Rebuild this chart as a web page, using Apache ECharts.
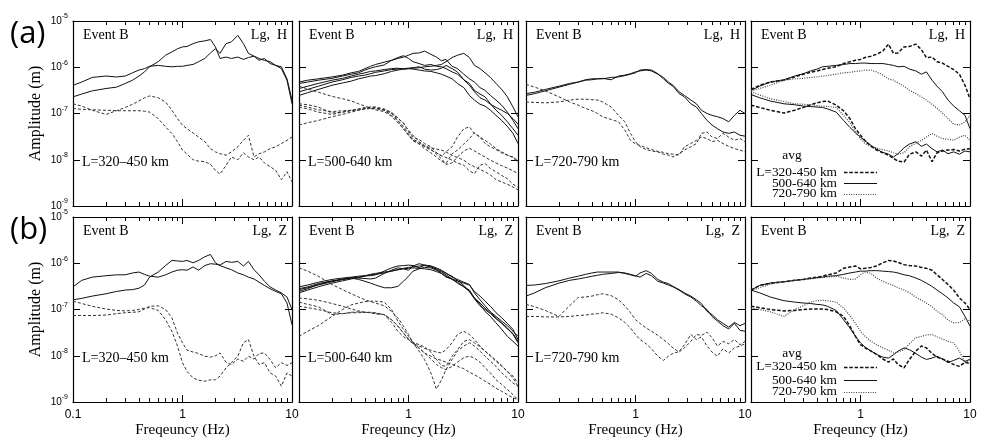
<!DOCTYPE html>
<html><head><meta charset="utf-8">
<script src="https://cdn.jsdelivr.net/npm/echarts@6/dist/echarts.min.js"></script>
<style>html,body{margin:0;padding:0;background:#fff}#c{width:993px;height:448px}</style>
</head><body><div id="c"></div>
<script>
// ---------- axis / text values ----------
const FREQ = [0.1,0.12,0.15,0.2,0.25,0.3,0.35,0.4,0.45,0.5,0.6,0.7,0.8,0.9,1,1.1,1.25,1.4,1.6,1.8,2,2.2,2.5,2.8,3.2,3.6,4,4.5,5,5.6,6.3,7.1,8,9,10];
const X_TICK_LABELS = {'-1':'0.1','0':'1','1':'10'};
const Y_EXPONENTS = [-9,-8,-7,-6,-5];
const X_NAME = 'Freqeuncy (Hz)';
const Y_NAME = 'Amplitude (m)';
const ROW_TAGS = ['(a)','(b)'];
const COMPONENTS = ['Lg,  H','Lg,  Z'];
const EVENT = 'Event B';
const RANGES = ['L=320\u2013450 km','L=500-640 km','L=720-790 km'];
const AVG_TITLE = 'avg';
const AVG_NAMES = ['L=320-450 km','500-640 km','720-790 km'];

// ---------- series values: log10 of amplitude (m) at FREQ ----------
// (a) H component, L=320-450 km
const a1s1 = [-6.39,-6.32,-6.22,-6.19,-6.21,-6.19,-6.12,-6.06,-6.03,-5.98,-5.96,-5.98,-5.99,-5.98,-5.98,-5.96,-5.94,-5.88,-5.81,-5.69,-5.60,-5.70,-5.49,-5.45,-5.31,-5.49,-5.70,-5.76,-5.81,-5.85,-5.88,-5.96,-5.99,-6.25,-6.71];
const a1s2 = [-6.64,-6.58,-6.51,-6.46,-6.43,-6.35,-6.28,-6.19,-6.10,-5.99,-5.88,-5.74,-5.67,-5.60,-5.56,-5.55,-5.49,-5.45,-5.43,-5.40,-5.56,-5.81,-5.78,-5.81,-5.78,-5.83,-5.79,-5.76,-5.85,-5.81,-5.92,-5.96,-6.03,-6.28,-6.79];
const a1n1 = [-6.79,-6.84,-6.93,-7.02,-6.94,-6.87,-6.80,-6.73,-6.66,-6.62,-6.66,-6.75,-6.93,-7.11,-7.25,-7.33,-7.42,-7.51,-7.61,-7.76,-7.83,-7.87,-7.90,-7.83,-7.72,-7.58,-7.47,-7.94,-7.87,-7.83,-7.76,-7.72,-7.65,-7.58,-7.51];
const a1n2 = [-6.89,-6.91,-6.92,-6.93,-6.94,-6.94,-6.94,-6.94,-6.95,-6.97,-7.11,-7.29,-7.43,-7.61,-7.79,-7.88,-8.00,-8.03,-8.04,-8.10,-8.23,-8.31,-8.12,-7.94,-8.00,-7.85,-7.94,-8.00,-7.94,-8.07,-8.15,-8.23,-8.43,-8.26,-8.48];
// (a) H component, L=500-640 km
const a2s1 = [-6.32,-6.28,-6.25,-6.21,-6.17,-6.12,-6.09,-6.03,-5.98,-5.94,-5.89,-5.85,-5.81,-5.78,-5.74,-5.70,-5.69,-5.65,-5.72,-5.78,-5.86,-5.83,-5.98,-6.03,-6.15,-6.25,-6.32,-6.44,-6.50,-6.61,-6.71,-6.82,-6.97,-7.15,-7.33];
const a2s2 = [-6.35,-6.32,-6.28,-6.24,-6.19,-6.15,-6.12,-6.06,-6.02,-5.99,-5.95,-5.85,-5.79,-5.75,-5.81,-5.88,-5.92,-5.96,-5.94,-5.98,-5.99,-6.03,-6.10,-6.15,-6.27,-6.35,-6.50,-6.58,-6.64,-6.79,-6.93,-7.04,-7.18,-7.33,-7.47];
const a2s3 = [-6.46,-6.41,-6.35,-6.28,-6.24,-6.19,-6.15,-6.12,-6.09,-6.08,-6.05,-6.03,-6.02,-6.04,-6.03,-6.02,-6.01,-5.99,-5.98,-5.96,-5.94,-5.88,-5.79,-5.74,-5.70,-5.79,-5.96,-6.03,-6.12,-6.22,-6.35,-6.48,-6.64,-6.86,-7.07];
const a2s4 = [-6.53,-6.48,-6.41,-6.32,-6.27,-6.22,-6.19,-6.17,-6.14,-6.11,-6.08,-6.05,-6.04,-6.03,-6.02,-6.01,-5.99,-6.04,-6.06,-6.05,-6.02,-5.96,-6.03,-6.10,-6.27,-6.39,-6.53,-6.66,-6.71,-6.80,-6.87,-6.93,-7.00,-7.11,-7.23];
const a2s5 = [-6.61,-6.55,-6.48,-6.39,-6.34,-6.30,-6.25,-6.22,-6.19,-6.18,-6.14,-6.09,-6.06,-6.04,-6.03,-6.04,-6.06,-6.08,-6.09,-6.12,-6.15,-6.19,-6.25,-6.35,-6.44,-6.61,-6.71,-6.80,-6.84,-6.93,-7.04,-7.15,-7.28,-7.43,-7.65];
const a2n1 = [-6.41,-6.47,-6.54,-6.63,-6.68,-6.73,-6.79,-6.84,-6.89,-6.92,-6.96,-7.06,-7.20,-7.33,-7.47,-7.58,-7.65,-7.71,-7.74,-7.77,-7.79,-7.83,-7.91,-7.95,-8.01,-8.10,-8.15,-8.21,-8.26,-8.33,-8.43,-8.48,-8.53,-8.59,-8.65];
const a2n2 = [-6.79,-6.81,-6.86,-6.99,-6.97,-6.94,-6.92,-6.90,-6.89,-6.89,-6.92,-6.97,-7.11,-7.20,-7.38,-7.51,-7.56,-7.65,-7.72,-7.85,-7.92,-7.83,-7.72,-7.51,-7.33,-7.29,-7.43,-7.51,-7.65,-7.72,-7.78,-7.85,-7.90,-7.95,-8.01];
const a2n3 = [-6.86,-6.90,-6.97,-7.02,-6.97,-6.93,-6.90,-6.87,-6.86,-6.87,-6.93,-7.04,-7.16,-7.33,-7.47,-7.59,-7.66,-7.76,-7.85,-7.94,-8.03,-8.08,-7.87,-7.79,-7.66,-7.54,-7.42,-7.51,-7.58,-7.66,-7.76,-7.83,-7.90,-7.94,-8.08];
const a2n4 = [-6.82,-6.86,-6.92,-6.96,-6.94,-6.93,-6.92,-6.89,-6.86,-6.86,-6.90,-6.99,-7.15,-7.28,-7.42,-7.56,-7.62,-7.69,-7.77,-7.88,-7.98,-8.10,-8.07,-7.94,-7.81,-7.75,-7.81,-7.88,-7.94,-8.01,-8.07,-8.13,-8.18,-8.24,-8.30];
const a2n5 = [-7.25,-7.20,-7.15,-7.07,-7.02,-6.97,-6.93,-6.90,-6.89,-6.89,-6.93,-7.00,-7.09,-7.22,-7.36,-7.47,-7.61,-7.72,-7.79,-7.85,-7.91,-7.95,-8.01,-8.07,-8.12,-8.24,-8.30,-8.12,-8.08,-8.19,-8.26,-8.34,-8.41,-8.53,-8.59];
// (a) H component, L=720-790 km
const a3s1 = [-6.57,-6.54,-6.48,-6.41,-6.35,-6.32,-6.27,-6.25,-6.25,-6.24,-6.27,-6.19,-6.17,-6.14,-6.10,-6.08,-6.06,-6.08,-6.15,-6.22,-6.32,-6.39,-6.53,-6.61,-6.71,-6.79,-6.93,-7.00,-7.04,-7.07,-7.11,-7.18,-7.04,-6.93,-7.00];
const a3s2 = [-6.61,-6.57,-6.51,-6.43,-6.37,-6.32,-6.28,-6.27,-6.25,-6.25,-6.22,-6.21,-6.18,-6.15,-6.12,-6.06,-6.05,-6.06,-6.14,-6.25,-6.35,-6.41,-6.57,-6.64,-6.79,-6.86,-7.00,-7.15,-7.25,-7.33,-7.40,-7.43,-7.40,-7.47,-7.49];
const a3n1 = [-6.37,-6.43,-6.51,-6.64,-6.75,-6.82,-6.89,-6.94,-7.00,-7.07,-7.13,-7.18,-7.36,-7.58,-7.66,-7.69,-7.74,-7.78,-7.82,-7.84,-7.87,-7.88,-7.90,-7.72,-7.65,-7.58,-7.51,-7.54,-7.61,-7.58,-7.65,-7.71,-7.76,-7.79,-7.83];
const a3n2 = [-6.75,-6.76,-6.77,-6.75,-6.71,-6.69,-6.69,-6.70,-6.71,-6.75,-6.86,-7.04,-7.18,-7.43,-7.61,-7.72,-7.78,-7.81,-7.83,-7.88,-7.90,-7.94,-7.87,-7.79,-7.72,-7.65,-7.43,-7.40,-7.51,-7.54,-7.43,-7.51,-7.58,-7.54,-7.61];
// (a) H component, averages
const a4s320 = [-6.48,-6.39,-6.32,-6.28,-6.21,-6.15,-6.11,-6.08,-6.05,-6.02,-5.99,-5.92,-5.88,-5.85,-5.83,-5.79,-5.76,-5.72,-5.65,-5.50,-5.70,-5.69,-5.56,-5.55,-5.50,-5.62,-5.79,-5.78,-5.88,-5.91,-5.98,-6.05,-6.15,-6.39,-6.68];
const a4s500 = [-6.50,-6.41,-6.32,-6.27,-6.19,-6.14,-6.08,-6.04,-5.99,-5.98,-5.96,-5.94,-5.92,-5.92,-5.91,-5.91,-5.92,-5.92,-5.92,-5.94,-5.96,-5.99,-5.98,-6.04,-6.08,-6.15,-6.10,-6.28,-6.41,-6.53,-6.71,-6.84,-6.94,-7.04,-7.33];
const a4s720 = [-6.51,-6.46,-6.39,-6.28,-6.25,-6.24,-6.22,-6.21,-6.19,-6.18,-6.15,-6.12,-6.11,-6.09,-6.08,-6.06,-6.06,-6.10,-6.17,-6.25,-6.28,-6.34,-6.41,-6.50,-6.57,-6.64,-6.71,-6.80,-6.89,-6.99,-7.11,-7.23,-7.25,-7.18,-7.04];
const a4n320 = [-6.82,-6.87,-6.93,-6.99,-6.93,-6.87,-6.81,-6.77,-6.74,-6.73,-6.82,-6.94,-7.11,-7.33,-7.47,-7.59,-7.71,-7.79,-7.85,-7.90,-7.97,-8.03,-8.05,-7.88,-7.83,-7.92,-7.79,-8.04,-7.85,-7.81,-7.79,-7.78,-7.81,-7.77,-7.76];
const a4n500 = [-6.59,-6.66,-6.73,-6.79,-6.81,-6.84,-6.85,-6.86,-6.87,-6.90,-6.97,-7.15,-7.30,-7.42,-7.51,-7.59,-7.69,-7.77,-7.84,-7.88,-7.94,-7.87,-7.74,-7.66,-7.61,-7.71,-7.66,-7.76,-7.83,-7.79,-7.87,-7.83,-7.88,-7.81,-7.83];
const a4n720 = [-6.53,-6.60,-6.68,-6.74,-6.79,-6.80,-6.81,-6.83,-6.84,-6.85,-6.87,-7.04,-7.20,-7.40,-7.54,-7.65,-7.71,-7.75,-7.78,-7.81,-7.85,-7.88,-7.85,-7.72,-7.64,-7.58,-7.51,-7.43,-7.49,-7.54,-7.56,-7.58,-7.51,-7.47,-7.58];
// (b) Z component, L=320-450 km
const b1s1 = [-6.51,-6.37,-6.30,-6.27,-6.25,-6.25,-6.21,-6.19,-6.24,-6.28,-6.30,-6.25,-6.19,-6.15,-6.14,-6.15,-6.08,-6.15,-6.05,-6.01,-6.02,-6.04,-5.96,-5.98,-5.96,-6.06,-5.96,-6.14,-6.25,-6.39,-6.51,-6.58,-6.64,-6.73,-7.00];
const b1s2 = [-6.79,-6.76,-6.71,-6.66,-6.61,-6.58,-6.57,-6.54,-6.47,-6.30,-6.19,-6.05,-5.94,-5.95,-5.96,-5.94,-5.99,-5.94,-5.86,-5.81,-5.99,-6.05,-6.10,-6.14,-6.21,-6.25,-6.30,-6.34,-6.41,-6.48,-6.55,-6.61,-6.66,-6.86,-7.33];
const b1n1 = [-6.82,-6.87,-6.93,-6.99,-7.02,-7.03,-7.02,-7.00,-6.97,-6.96,-7.02,-7.22,-7.47,-7.79,-8.15,-8.34,-8.48,-8.53,-8.55,-8.52,-8.52,-8.44,-8.26,-8.15,-8.01,-7.72,-7.65,-8.01,-8.19,-8.15,-8.37,-8.44,-8.66,-8.37,-8.44];
const b1n2 = [-7.13,-7.13,-7.13,-7.12,-7.09,-7.07,-7.06,-7.05,-6.99,-6.93,-6.92,-7.00,-7.18,-7.51,-7.72,-7.88,-7.92,-7.95,-8.01,-8.03,-8.00,-7.94,-8.14,-8.19,-8.07,-8.12,-8.01,-8.07,-7.95,-7.94,-8.08,-8.26,-8.15,-8.21,-8.15];
// (b) Z component, L=500-640 km
const b2s1 = [-6.51,-6.47,-6.41,-6.35,-6.32,-6.30,-6.28,-6.27,-6.27,-6.25,-6.17,-6.10,-6.06,-6.05,-6.04,-6.05,-6.10,-6.04,-6.06,-6.14,-6.22,-6.30,-6.34,-6.38,-6.43,-6.47,-6.61,-6.71,-6.82,-6.93,-7.07,-7.18,-7.30,-7.43,-7.65];
const b2s2 = [-6.55,-6.51,-6.44,-6.38,-6.35,-6.32,-6.32,-6.33,-6.34,-6.32,-6.22,-6.15,-6.10,-6.12,-6.15,-6.06,-6.01,-6.04,-6.06,-6.10,-6.15,-6.21,-6.30,-6.35,-6.41,-6.46,-6.64,-6.79,-6.92,-7.05,-7.15,-7.25,-7.35,-7.47,-7.58];
const b2s3 = [-6.61,-6.55,-6.46,-6.39,-6.34,-6.32,-6.35,-6.39,-6.43,-6.47,-6.53,-6.53,-6.50,-6.39,-6.28,-6.17,-6.12,-6.09,-6.10,-6.15,-6.19,-6.25,-6.34,-6.43,-6.51,-6.58,-6.75,-6.89,-7.04,-7.15,-7.29,-7.43,-7.58,-7.69,-7.79];
const b2s4 = [-6.64,-6.58,-6.51,-6.43,-6.38,-6.34,-6.31,-6.28,-6.25,-6.24,-6.21,-6.17,-6.14,-6.12,-6.11,-6.10,-6.11,-6.12,-6.14,-6.18,-6.22,-6.28,-6.35,-6.41,-6.51,-6.61,-6.75,-6.86,-6.97,-7.07,-7.18,-7.29,-7.40,-7.54,-7.72];
const b2s5 = [-6.57,-6.53,-6.47,-6.40,-6.35,-6.32,-6.30,-6.27,-6.24,-6.22,-6.19,-6.17,-6.14,-6.11,-6.09,-6.08,-6.06,-6.05,-6.08,-6.12,-6.17,-6.22,-6.28,-6.37,-6.48,-6.61,-6.77,-6.92,-7.00,-7.09,-7.20,-7.30,-7.42,-7.52,-7.69];
const b2n1 = [-6.10,-6.17,-6.28,-6.46,-6.57,-6.66,-6.73,-6.79,-6.83,-6.86,-6.92,-7.04,-7.18,-7.36,-7.54,-7.72,-7.90,-8.08,-8.37,-8.72,-8.52,-8.30,-8.08,-7.90,-7.79,-7.72,-7.79,-7.90,-8.01,-8.12,-8.23,-8.37,-8.48,-8.59,-8.66];
const b2n2 = [-6.75,-6.77,-6.80,-6.87,-6.93,-6.99,-7.03,-7.06,-7.07,-7.09,-7.11,-7.22,-7.36,-7.51,-7.65,-7.74,-7.79,-7.84,-7.88,-7.92,-7.94,-7.87,-7.72,-7.54,-7.47,-7.54,-7.65,-7.79,-7.90,-8.01,-8.12,-8.23,-8.34,-8.44,-8.59];
const b2n3 = [-6.84,-6.89,-6.94,-7.11,-7.09,-7.06,-7.05,-7.06,-7.07,-7.09,-7.11,-7.22,-7.36,-7.51,-7.64,-7.74,-7.84,-7.94,-8.07,-8.19,-8.26,-8.30,-8.23,-8.14,-8.04,-8.01,-8.05,-8.14,-8.26,-8.37,-8.52,-8.62,-8.73,-8.84,-8.95];
const b2n4 = [-6.93,-6.96,-7.00,-7.07,-7.09,-7.07,-7.07,-7.06,-7.06,-7.07,-7.11,-7.28,-7.47,-7.59,-7.65,-7.71,-7.76,-7.81,-7.92,-8.08,-8.21,-8.23,-8.01,-7.87,-7.69,-7.65,-7.72,-7.81,-7.90,-7.99,-8.10,-8.21,-8.34,-8.48,-8.66];
const b2n5 = [-7.58,-7.47,-7.35,-7.15,-7.00,-6.90,-6.86,-6.83,-6.82,-6.82,-6.84,-7.00,-7.25,-7.43,-7.58,-7.71,-7.83,-7.94,-8.01,-8.07,-8.10,-8.14,-8.19,-8.23,-8.28,-8.36,-8.41,-8.48,-8.55,-8.62,-8.70,-8.77,-8.84,-8.91,-8.95];
// (b) Z component, L=720-790 km
const b3s1 = [-6.48,-6.47,-6.44,-6.38,-6.32,-6.28,-6.24,-6.21,-6.19,-6.19,-6.19,-6.19,-6.22,-6.25,-6.28,-6.21,-6.16,-6.22,-6.35,-6.41,-6.44,-6.50,-6.57,-6.64,-6.71,-6.79,-6.87,-7.04,-7.11,-7.22,-7.30,-7.38,-7.28,-7.35,-7.30];
const b3s2 = [-6.71,-6.64,-6.53,-6.43,-6.37,-6.34,-6.31,-6.28,-6.26,-6.24,-6.22,-6.20,-6.21,-6.24,-6.27,-6.30,-6.22,-6.27,-6.39,-6.43,-6.47,-6.51,-6.58,-6.66,-6.73,-6.82,-6.92,-7.00,-7.15,-7.25,-7.35,-7.42,-7.30,-7.45,-7.47];
const b3n1 = [-6.89,-6.94,-7.02,-7.15,-6.92,-6.74,-6.73,-6.71,-6.68,-6.66,-6.70,-6.79,-6.92,-7.07,-7.22,-7.30,-7.40,-7.47,-7.56,-7.65,-7.74,-7.83,-7.92,-7.83,-7.69,-7.54,-7.56,-7.49,-7.61,-7.79,-7.69,-7.74,-7.65,-7.76,-7.69];
const b3n2 = [-7.15,-7.15,-7.16,-7.16,-7.15,-7.13,-7.12,-7.10,-7.09,-7.07,-7.10,-7.18,-7.28,-7.40,-7.54,-7.65,-7.74,-7.85,-8.01,-8.10,-8.01,-7.95,-7.91,-7.76,-7.54,-7.65,-7.59,-7.79,-7.92,-8.01,-7.85,-7.94,-7.83,-7.79,-7.74];
// (b) Z component, averages
const b4s320 = [-6.58,-6.48,-6.43,-6.40,-6.37,-6.35,-6.32,-6.30,-6.28,-6.25,-6.21,-6.11,-6.08,-6.06,-6.12,-6.11,-6.09,-6.06,-5.99,-5.94,-5.95,-5.98,-6.03,-6.05,-6.06,-6.09,-6.11,-6.15,-6.25,-6.35,-6.46,-6.58,-6.75,-6.86,-7.00];
const b4s500 = [-6.58,-6.48,-6.43,-6.40,-6.37,-6.35,-6.33,-6.31,-6.30,-6.28,-6.27,-6.24,-6.21,-6.19,-6.17,-6.17,-6.16,-6.16,-6.17,-6.18,-6.19,-6.21,-6.25,-6.27,-6.32,-6.37,-6.43,-6.50,-6.58,-6.66,-6.75,-6.86,-6.94,-7.15,-7.36];
const b4s720 = [-6.58,-6.53,-6.45,-6.40,-6.37,-6.35,-6.34,-6.32,-6.31,-6.30,-6.28,-6.32,-6.35,-6.34,-6.25,-6.19,-6.22,-6.32,-6.39,-6.44,-6.48,-6.53,-6.58,-6.64,-6.73,-6.80,-6.86,-6.94,-7.04,-7.11,-7.23,-7.29,-7.28,-7.20,-7.25];
const b4n320 = [-6.93,-6.96,-7.00,-7.03,-7.02,-7.00,-6.99,-6.99,-6.99,-7.00,-7.05,-7.15,-7.36,-7.58,-7.76,-7.83,-7.90,-7.97,-8.07,-8.14,-8.07,-8.19,-8.26,-8.08,-7.90,-7.79,-7.83,-7.95,-8.03,-8.07,-8.12,-8.19,-8.23,-8.14,-8.17];
const b4n500 = [-6.58,-6.64,-6.73,-6.81,-6.84,-6.86,-6.87,-6.89,-6.90,-6.93,-7.02,-7.22,-7.40,-7.58,-7.72,-7.81,-7.90,-7.97,-8.03,-8.05,-7.98,-7.90,-7.83,-7.87,-7.95,-8.03,-8.08,-8.05,-8.01,-8.07,-8.15,-8.10,-8.05,-8.12,-8.08];
const b4n720 = [-6.97,-7.00,-7.05,-7.15,-7.00,-6.92,-6.84,-6.81,-6.80,-6.81,-6.84,-6.97,-7.13,-7.30,-7.47,-7.58,-7.69,-7.76,-7.83,-7.88,-7.94,-7.92,-7.87,-7.74,-7.61,-7.58,-7.55,-7.54,-7.59,-7.64,-7.69,-7.72,-7.90,-8.15,-8.08];

const PANELS = [
  {row:0,col:0,sig:[a1s1,a1s2],noise:[a1n1,a1n2]},
  {row:0,col:1,sig:[a2s1,a2s2,a2s3,a2s4,a2s5],noise:[a2n1,a2n2,a2n3,a2n4,a2n5]},
  {row:0,col:2,sig:[a3s1,a3s2],noise:[a3n1,a3n2]},
  {row:0,col:3,avg:true,sig:[a4s320,a4s500,a4s720],noise:[a4n320,a4n500,a4n720]},
  {row:1,col:0,sig:[b1s1,b1s2],noise:[b1n1,b1n2]},
  {row:1,col:1,sig:[b2s1,b2s2,b2s3,b2s4,b2s5],noise:[b2n1,b2n2,b2n3,b2n4,b2n5]},
  {row:1,col:2,sig:[b3s1,b3s2],noise:[b3n1,b3n2]},
  {row:1,col:3,avg:true,sig:[b4s320,b4s500,b4s720],noise:[b4n320,b4n500,b4n720]}
];

// ---------- layout & style ----------
const SERIF = '"Liberation Serif","Times New Roman",serif';
const SANS = '"Liberation Sans",Arial,sans-serif';
const LEFTS = [73, 299, 526, 751];
const TOPS = [21, 217];
const PW = 219, PH = 185;
const SIG_STYLE = {color:'#111', width:1, type:'solid'};
const NOISE_STYLE = {color:'#333', width:1, type:[3,2]};
const AVG_STYLES = [
  {color:'#111', width:1.5, type:[3.5,1.8]},
  {color:'#111', width:1, type:'solid'},
  {color:'#444', width:1.2, type:[1,1.4]}
];
const LEGEND_ROW_Y = [[151, 162, 172.5], [149.5, 163, 174.5]]; // offsets from panel top
const AVG_TITLE_Y = [134.5, 136.5];

function pairs(arr){ return FREQ.map((f,i)=>[f, Math.pow(10, arr[i])]); }
function xLabel(col){
  return function(v){
    const e = Math.round(Math.log10(v));
    if (e === -1 && col > 0) return '';
    return X_TICK_LABELS[String(e)] || '';
  };
}
function yLabel(v){
  const e = Math.round(Math.log10(v));
  return Y_EXPONENTS.indexOf(e) >= 0 ? '{b|10}{s|' + e + '}' : '';
}

const tickCommon = {show:true, inside:true, length:7, lineStyle:{color:'#000', width:1}};
const minorCommon = {show:true, splitNumber:9, length:4, lineStyle:{color:'#000', width:1}};
const lineCommon = {show:true, onZero:false, lineStyle:{color:'#000', width:1.2}};

const grids = [], xAxis = [], yAxis = [], series = [], graphic = [];
const font14 = '14px ' + SERIF;
const fontLegend = '13.4px ' + SERIF;

PANELS.forEach((p, gi) => {
  const left = LEFTS[p.col], top = TOPS[p.row];
  const isBottom = p.row === 1;
  grids.push({left:left, top:top, width:PW, height:PH, containLabel:false});
  xAxis.push({type:'log', logBase:10, gridIndex:gi, min:0.1, max:10, position:'bottom',
    axisLine:lineCommon, axisTick:tickCommon, minorTick:minorCommon,
    splitLine:{show:false}, minorSplitLine:{show:false},
    axisLabel:{show:isBottom, formatter:xLabel(p.col), color:'#000', fontFamily:SANS, fontSize:12, margin:7},
    name: isBottom ? X_NAME : '', nameLocation:'middle', nameGap:21,
    nameTextStyle:{fontFamily:SERIF, fontSize:15, color:'#000'}});
  xAxis.push({type:'log', logBase:10, gridIndex:gi, min:0.1, max:10, position:'top',
    axisLine:lineCommon, axisTick:tickCommon, minorTick:minorCommon,
    splitLine:{show:false}, minorSplitLine:{show:false}, axisLabel:{show:false}});
  yAxis.push({type:'log', logBase:10, gridIndex:gi, min:1e-9, max:1e-5, position:'left',
    axisLine:lineCommon, axisTick:tickCommon, splitLine:{show:false},
    axisLabel:{show:p.col===0, formatter:yLabel, margin:5,
      rich:{b:{fontFamily:SANS, fontSize:10, color:'#000', lineHeight:16},
            s:{fontFamily:SANS, fontSize:7, color:'#000', verticalAlign:'top'}}},
    name: p.col===0 ? Y_NAME : '', nameLocation:'middle', nameGap:29,
    nameTextStyle:{fontFamily:SERIF, fontSize:16, color:'#000'}});
  yAxis.push({type:'log', logBase:10, gridIndex:gi, min:1e-9, max:1e-5, position:'right',
    axisLine:lineCommon, axisTick:tickCommon, splitLine:{show:false}, axisLabel:{show:false}});

  const xi = 2*gi, yi = 2*gi;
  p.sig.forEach((arr, k) => {
    const st = p.avg ? AVG_STYLES[k] : SIG_STYLE;
    series.push({type:'line', xAxisIndex:xi, yAxisIndex:yi, data:pairs(arr), symbol:'none', silent:true,
      name: p.avg ? AVG_NAMES[k] : undefined, lineStyle:st, itemStyle:{color:st.color}});
  });
  p.noise.forEach((arr, k) => {
    const st = p.avg ? AVG_STYLES[k] : NOISE_STYLE;
    series.push({type:'line', xAxisIndex:xi, yAxisIndex:yi, data:pairs(arr), symbol:'none', silent:true,
      name: p.avg ? AVG_NAMES[k] : undefined, lineStyle:st, itemStyle:{color:st.color}});
  });

  graphic.push({type:'text', x:left+10, y:top+14, silent:true,
    style:{text:EVENT, font:font14, fill:'#000', align:'left', verticalAlign:'middle'}});
  graphic.push({type:'text', x:left+PW-5, y:top+14, silent:true,
    style:{text:COMPONENTS[p.row], font:font14, fill:'#000', align:'right', verticalAlign:'middle'}});
  if (!p.avg) {
    graphic.push({type:'text', x:left+9, y:top+141, silent:true,
      style:{text:RANGES[p.col], font:font14, fill:'#000', align:'left', verticalAlign:'middle'}});
  } else {
    // legend block: title, names and line samples in the series' styles
    graphic.push({type:'text', x:left+41, y:top+AVG_TITLE_Y[p.row], silent:true,
      style:{text:AVG_TITLE, font:fontLegend, fill:'#000', align:'center', verticalAlign:'middle'}});
    AVG_NAMES.forEach((nm, k) => {
      const yy = top + LEGEND_ROW_Y[p.row][k];
      const st = AVG_STYLES[k];
      graphic.push({type:'text', x:left+86, y:yy, silent:true,
        style:{text:nm, font:fontLegend, fill:'#000', align:'right', verticalAlign:'middle'}});
      graphic.push({type:'line', silent:true,
        shape:{x1:left+93, y1:Math.round(yy)+0.5, x2:left+126, y2:Math.round(yy)+0.5},
        style:{stroke:st.color, lineWidth:st.width, lineDash: Array.isArray(st.type) ? st.type : null}});
    });
  }
});

ROW_TAGS.forEach((t, r) => {
  graphic.push({type:'text', x:10, y:TOPS[r]+13, silent:true,
    style:{text:t, font:'31px "Open Sans", "Noto Sans", sans-serif', fill:'#000', align:'left', verticalAlign:'middle'}});
});

const option = {
  animation:false,
  backgroundColor:'#fff',
  grid:grids, xAxis:xAxis, yAxis:yAxis, series:series, graphic:graphic
};
const chart = echarts.init(document.getElementById('c'), null, {renderer:'canvas'});
chart.setOption(option);
</script></body></html>
